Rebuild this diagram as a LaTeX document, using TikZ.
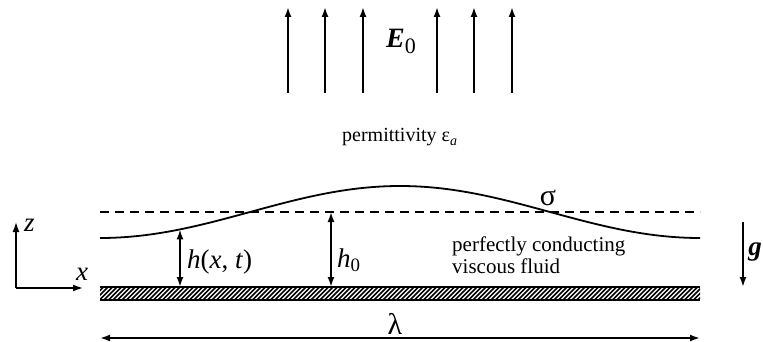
\documentclass[tikz,border=0pt]{standalone}
\usepackage{fontspec}
\setmainfont{Liberation Serif}
\usetikzlibrary{arrows.meta,positioning}

\begin{document}
\begin{tikzpicture}[
  x=1pt, y=-1pt,
  %--- lines and arrows ---
  thinline/.style={line width=1.8pt},
  fieldarr/.style={thinline, -{Latex[length=10pt,width=7pt]}},
  dimarr/.style={thinline, {Latex[length=10pt,width=7pt]}-{Latex[length=10pt,width=7pt]}},
  level/.style={thinline, dash pattern=on 9pt off 6pt},
  %--- text ---
  mathlbl/.style={inner sep=0pt, font=\fontsize{27}{30}\selectfont},
  txtlbl/.style={inner sep=0pt, align=left, font=\fontsize{21}{22}\selectfont}
]
\useasboundingbox (0,0) rectangle (763,342);

%% ── FIELD ARROWS ────────────────────────────────────────────────────────────
\foreach \xx [count=\i] in {288,325,363,437,474,512}{
  \coordinate (fbot\i) at (\xx,93);
  \coordinate (ftop\i) at (\xx,7);
  \draw[fieldarr] (fbot\i) -- (ftop\i);
}
\node[mathlbl, font=\fontsize{28}{30}\selectfont, anchor=base west] (efield) at (386,48)
  {\textbf{\textit{E}}\raisebox{-6pt}{\fontsize{22}{24}\selectfont 0}};

\node[txtlbl, font=\fontsize{20}{22}\selectfont, anchor=base west] (perm) at (342,142)
  {permittivity ε\textsubscript{\textit{a}}};

%% ── FLUID LAYER ─────────────────────────────────────────────────────────────
\draw[level] (100,212) -- (700,212);
\draw[thinline, domain=100:700, samples=120, smooth]
  plot (\x,{212-26*cos(0.6*(\x-400))});
\node[inner sep=0pt, font=\fontsize{30}{32}\selectfont] (sigma) at (548,198) {σ};

% wall
\begin{scope}
  \clip (100,287) rectangle (700,300);
  \foreach \xx in {86,90.5,...,704}{
    \draw[line width=1.7pt] (\xx,300) -- ++(13,-13);
  }
\end{scope}
\draw[thinline] (100,287) -- (700,287);
\draw[thinline] (100,300) -- (700,300);

%% ── HEIGHTS ─────────────────────────────────────────────────────────────────
\coordinate (hsurf) at (180,{212-26*cos(0.6*(180-400))});
\coordinate (hwall) at (180,287);
\draw[dimarr] (hsurf) -- (hwall);
\node[mathlbl, anchor=west] (hlbl) at (187,262) {\textit{h}(\textit{x}, \textit{t})};

\coordinate (hnull) at (331,212);
\coordinate (hnullwall) at (331,287);
\draw[dimarr] (hnull) -- (hnullwall);
\node[mathlbl, anchor=west] (h0lbl) at (337,260) {\textit{h}\textsubscript{0}};

\node[txtlbl, anchor=west] (fluid) at (452,255)
  {perfectly conducting\\viscous fluid};

%% ── AXES, GRAVITY, WAVELENGTH ───────────────────────────────────────────────
\coordinate (orig) at (16,288);
\coordinate (zend) at (16,222);
\coordinate (xend) at (83,288);
\draw[fieldarr, line width=1.4pt] (orig) -- (zend);
\draw[fieldarr, line width=1.4pt] (orig) -- (xend);
\node[mathlbl, anchor=west] (zlbl) at (24,225) {\textit{z}};
\node[mathlbl] (xlbl) at (82,274) {\textit{x}};

\coordinate (gtop) at (743,222);
\coordinate (gbot) at (743,287);
\draw[fieldarr] (gtop) -- (gbot);
\node[mathlbl] (glbl) at (755,252) {\textbf{\textit{g}}};

\coordinate (lamleft) at (100,338);
\coordinate (lamright) at (700,338);
\draw[dimarr] (lamleft) -- (lamright);
\node[inner sep=0pt, font=\fontsize{30}{32}\selectfont] (lambda) at (395,324) {λ};
\end{tikzpicture}
\end{document}
